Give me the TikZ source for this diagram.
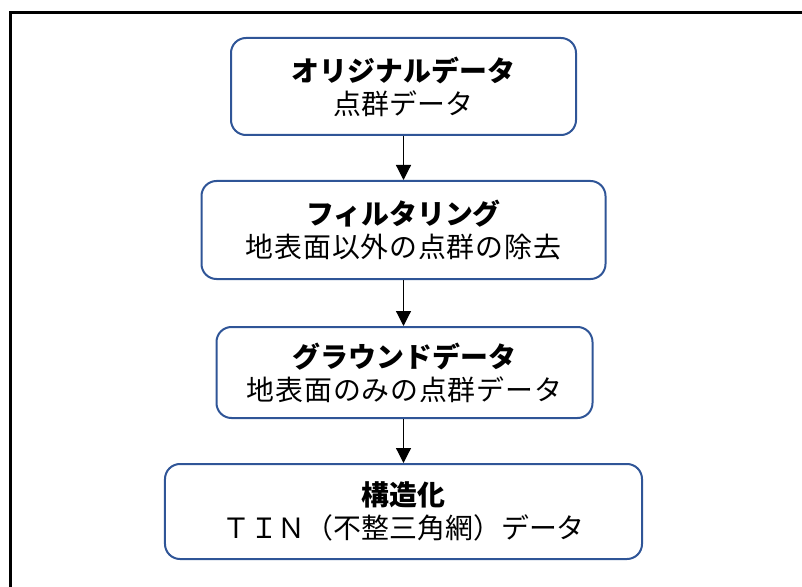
\documentclass[tikz,border=0pt]{standalone}
\usepackage{fontspec}
\setmainfont{Noto Sans CJK JP}
\usetikzlibrary{arrows.meta}
\definecolor{boxblue}{HTML}{2F5597}
\newcommand{\widetext}{\addfontfeature{LetterSpace=3}}
\tikzset{
	stage/.style={draw=boxblue, line width=2bp, rounded corners=15bp, align=center, inner sep=0pt, font=\fontsize{28}{33}\selectfont},
	flow/.style={-{Triangle[width=15bp,length=15bp]}, line width=1.2bp}
}

\begin{document}
\begin{tikzpicture}[x=1bp, y=-1bp]
			%%%%% START %%%%%
			
			\useasboundingbox (0, 0) rectangle (802, 587);
			\draw[line width=2.5bp] (10.5, 587) -- (10.5, 12.5) -- (802, 12.5);
			
			\node[stage, minimum width=345bp, minimum height=97bp] (orig) at (403.5, 86.5) {\textbf{オリジナルデータ}\\点群データ};
			\node[stage, minimum width=404bp, minimum height=98bp] (filt) at (403.5, 230) {\textbf{フィルタリング}\\{\widetext 地表面以外の点群の除去}};
			\node[stage, minimum width=376bp, minimum height=91bp] (grnd) at (404.5, 372.5) {\textbf{グラウンドデータ}\\{\widetext 地表面のみの点群データ}};
			\node[stage, minimum width=477bp, minimum height=95bp] (tin) at (403.5, 511.5) {\textbf{構造化}\\ＴＩＮ（不整三角網）データ};
			
			\draw[flow] (orig.south) -- (orig.south |- filt.north);
			\draw[flow] (filt.south) -- (filt.south |- grnd.north);
			\draw[flow] (orig.south |- grnd.south) -- (orig.south |- tin.north);
			
			%%%%% END %%%%%
\end{tikzpicture}
\end{document}
